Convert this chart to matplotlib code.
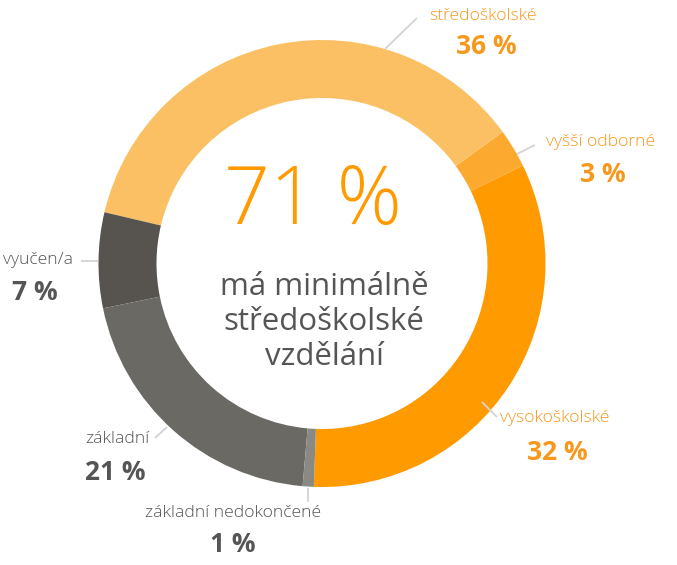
import matplotlib
matplotlib.use("Agg")
import matplotlib.pyplot as plt

CATEGORIES = ["vysokoškolské", "vyšší odborné", "středoškolské",
              "vyučen/a", "základní", "základní nedokončené"]
SHARES     = [32.8, 2.8, 36.3, 6.9, 20.4, 0.8]
PCT_LABELS = ["32 %", "3 %", "36 %", "7 %", "21 %", "1 %"]
CENTER_BIG  = "71 %"
CENTER_TEXT = "má minimálně\nstředoškolské\nvzdělání"

COLORS = ["#FF9A00", "#FCA92F", "#FBC064", "#57544F", "#6B6964", "#8A8984"]
TEXT_C = ["#F7981E", "#F7981E", "#F7981E", "#555555", "#555555", "#555555"]

W, H = 677, 565
CX, CY = 322, 263.5          # ring centre in pixels (y from top)
R_OUT, RING_W = 223.5, 58
START = 267.9

# label anchors (pixels from top-left): name xy, pct xy, ha, leader line
LAYOUT = [
    ((500, 418), (557, 452), "left",   [(482, 402), (497, 417)]),
    ((546, 142), (603, 175), "left",   [(517, 154), (535, 145)]),
    ((429, 16),  (486, 47),  "left",   [(385, 49), (417, 18)]),
    ((73, 260),  (35, 293),  "right",  [(81, 260.5), (98, 260.5)]),
    ((150, 439), (115, 472), "right",  [(155, 438), (167, 427)]),
    ((233, 513), (233, 545), "center", [(307.7, 488), (307.7, 502)]),
]

plt.rcParams["font.family"] = ["Open Sans", "DejaVu Sans"]

fig = plt.figure(figsize=(W / 100, H / 100), dpi=100)
ax = fig.add_axes([0, 0, 1, 1])


def py(y):
    return H - y


ax.pie(SHARES, colors=COLORS, startangle=START, counterclock=True,
       center=(CX, py(CY)), radius=R_OUT,
       wedgeprops=dict(width=RING_W, linewidth=0))

for i, (nxy, pxy, ha, line) in enumerate(LAYOUT):
    ax.plot([p[0] for p in line], [py(p[1]) for p in line],
            color="#D3D3D3", lw=1.3, solid_capstyle="butt")
    ax.text(nxy[0], py(nxy[1]), CATEGORIES[i], ha=ha, va="center",
            fontsize=12.6, fontweight="light", color=TEXT_C[i])
    ax.text(pxy[0], py(pxy[1]), PCT_LABELS[i], ha="center", va="center",
            fontsize=19, fontweight="bold", color=TEXT_C[i])

ax.text(313, py(203), CENTER_BIG, ha="center", va="center",
        fontsize=58, fontweight="light", color="#FF9A00")
ax.text(324, py(322), CENTER_TEXT, ha="center", va="center",
        fontsize=22.5, color="#555555", linespacing=1.2)

ax.set_xlim(0, W)
ax.set_ylim(0, H)
ax.set_aspect("equal")
ax.axis("off")

fig.savefig("out.png", dpi=100, facecolor="white")
